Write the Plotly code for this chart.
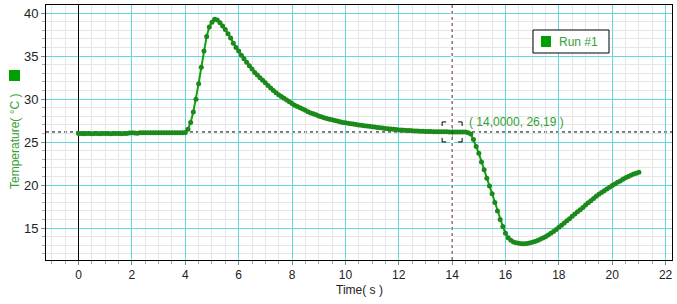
import numpy as np
import plotly.graph_objects as go

# sample times (s), 0.1 s grid from 0.0 to 21.0
time_s = np.round(np.arange(0, 211) * 0.1, 1)

temperature_c = [
    # 0.0 - 1.9
    26.00, 26.00, 25.99, 26.00, 26.00, 25.99, 26.00, 26.00, 25.99, 26.00,
    26.00, 26.00, 25.99, 26.00, 26.00, 26.00, 25.99, 26.00, 26.02, 26.06,
    # 2.0 - 3.9
    26.10, 26.08, 26.04, 26.10, 26.09, 26.10, 26.10, 26.09, 26.10, 26.10,
    26.10, 26.09, 26.10, 26.10, 26.10, 26.09, 26.10, 26.10, 26.10, 26.10,
    # 4.0 - 5.9
    26.12, 26.50, 27.30, 28.50, 30.00, 31.80, 33.70, 35.60, 37.30, 38.40,
    38.95, 39.30, 39.20, 38.90, 38.50, 38.10, 37.60, 37.10, 36.50, 36.00,
    # 6.0 - 7.9
    35.60, 35.10, 34.70, 34.30, 33.90, 33.50, 33.10, 32.80, 32.50, 32.20,
    31.90, 31.60, 31.30, 31.00, 30.75, 30.50, 30.30, 30.10, 29.90, 29.70,
    # 8.0 - 9.9
    29.50, 29.30, 29.15, 29.00, 28.85, 28.70, 28.55, 28.40, 28.30, 28.20,
    28.05, 27.95, 27.85, 27.75, 27.67, 27.60, 27.52, 27.45, 27.38, 27.30,
    # 10.0 - 11.9
    27.25, 27.20, 27.15, 27.10, 27.05, 27.00, 26.96, 26.92, 26.88, 26.84,
    26.80, 26.76, 26.72, 26.68, 26.64, 26.60, 26.56, 26.52, 26.49, 26.46,
    # 12.0 - 13.9
    26.43, 26.41, 26.39, 26.37, 26.35, 26.33, 26.31, 26.29, 26.27, 26.26,
    26.25, 26.24, 26.23, 26.22, 26.21, 26.21, 26.20, 26.20, 26.20, 26.19,
    # 14.0 - 15.9
    26.19, 26.19, 26.18, 26.18, 26.18, 26.17, 26.10, 25.95, 25.30, 24.50,
    23.70, 22.70, 21.80, 20.80, 19.90, 19.00, 18.00, 17.00, 16.00, 15.20,
    # 16.0 - 17.9
    14.40, 13.90, 13.60, 13.40, 13.30, 13.25, 13.20, 13.20, 13.22, 13.27,
    13.35, 13.45, 13.57, 13.70, 13.85, 14.00, 14.20, 14.40, 14.60, 14.85,
    # 18.0 - 19.9
    15.10, 15.35, 15.60, 15.85, 16.10, 16.40, 16.65, 16.90, 17.15, 17.40,
    17.70, 17.95, 18.20, 18.45, 18.70, 18.95, 19.15, 19.35, 19.55, 19.75,
    # 20.0 - 21.0
    19.95, 20.15, 20.35, 20.50, 20.70, 20.85, 21.00, 21.15, 21.30, 21.40,
    21.50,
]

cursor_x = 14.0
cursor_y = 26.19
cursor_label = "( 14,0000, 26,19 )"
series_name = "Run #1"
x_title = "Time( s )"
y_title = "Temperature( °C )"

GREEN_LINE = "#10a010"
GREEN_MARK = "#1b8a1b"
GREEN_TEXT = "#35a035"
CYAN = "#66d6d6"
FONT = "Liberation Sans, Arial, sans-serif"

W, H = 677, 304
L, R, T, B = 46, 5, 5, 44
PW, PH = W - L - R, H - T - B


def px(xp):
    return (xp - L) / PW


def py(yp):
    return (H - B - yp) / PH


fig = go.Figure()
fig.add_trace(go.Scatter(
    x=time_s, y=temperature_c, mode="lines+markers",
    line=dict(color=GREEN_LINE, width=2),
    marker=dict(color=GREEN_MARK, size=5),
    showlegend=False, hoverinfo="skip",
))

shapes = []
# hide the cyan gridline under the cursor (except where the data passes), then the cursor lines
shapes.append(dict(type="line", xref="x", yref="paper", x0=cursor_x, x1=cursor_x,
                   y0=0, y1=py(137), line=dict(color="#ffffff", width=3), layer="above"))
shapes.append(dict(type="line", xref="x", yref="paper", x0=cursor_x, x1=cursor_x,
                   y0=py(128), y1=1, line=dict(color="#ffffff", width=3), layer="above"))
shapes.append(dict(type="line", xref="x", yref="paper", x0=cursor_x, x1=cursor_x,
                   y0=0, y1=1, line=dict(color="#5a2828", width=1, dash="3px,3px"), layer="above"))
shapes.append(dict(type="line", xref="paper", yref="y", x0=0, x1=1,
                   y0=cursor_y, y1=cursor_y, line=dict(color="#000000", width=1, dash="3px,3px"),
                   layer="between"))
# cursor brackets (pixel offsets around anchor)
br = ("M -10,6 L -10,10 L -6,10 M 6,10 L 10,10 L 10,6 "
      "M 10,-6 L 10,-10 L 6,-10 M -6,-10 L -10,-10 L -10,-6")
shapes.append(dict(type="path", xref="x", yref="y", xsizemode="pixel", ysizemode="pixel",
                   xanchor=cursor_x, yanchor=cursor_y, path=br,
                   line=dict(color="#000000", width=1), layer="above"))
# legend box
shapes.append(dict(type="rect", xref="paper", yref="paper", x0=px(533), x1=px(609),
                   y0=py(53), y1=py(30), line=dict(color="#000000", width=1),
                   fillcolor="white", layer="above"))
shapes.append(dict(type="rect", xref="paper", yref="paper", x0=px(541), x1=px(551),
                   y0=py(47), y1=py(36), line=dict(width=0),
                   fillcolor="#00a000", layer="above"))
# y title square
shapes.append(dict(type="rect", xref="paper", yref="paper", x0=px(9), x1=px(20),
                   y0=py(81), y1=py(70), line=dict(width=0),
                   fillcolor="#00a000", layer="above"))

annotations = [
    dict(xref="paper", yref="paper", x=px(557), y=py(41.5), text=series_name,
         showarrow=False, xanchor="left", yanchor="middle",
         font=dict(family=FONT, size=12, color=GREEN_TEXT)),
    dict(xref="paper", yref="paper", x=px(467), y=py(121.5), text=cursor_label,
         showarrow=False, xanchor="left", yanchor="middle",
         font=dict(family=FONT, size=12, color=GREEN_TEXT)),
    dict(xref="paper", yref="paper", x=px(15), y=py(141), text=y_title,
         showarrow=False, textangle=-90, xanchor="center", yanchor="middle",
         font=dict(family=FONT, size=12, color=GREEN_TEXT)),
    dict(xref="paper", yref="paper", x=0.5, y=py(290), text=x_title,
         showarrow=False, xanchor="center", yanchor="middle",
         font=dict(family=FONT, size=12, color="#222222")),
]

fig.update_layout(
    width=W, height=H,
    margin=dict(l=L, r=R, t=T, b=B, pad=0),
    paper_bgcolor="white", plot_bgcolor="white",
    font=dict(family=FONT, size=12, color="#222222"),
    shapes=shapes, annotations=annotations,
    showlegend=False,
    xaxis=dict(
        range=[-1.22, 22.24], dtick=2, tick0=0,
        showgrid=True, gridcolor=CYAN, gridwidth=1,
        zeroline=True, zerolinecolor="#000000", zerolinewidth=1,
        showline=True, linecolor="#000000", linewidth=1, mirror=True,
        ticks="outside", ticklen=4, tickcolor="#888888",
        minor=dict(dtick=0.5, showgrid=True, gridcolor="#e6e6e6", gridwidth=1,
                   ticks="outside", ticklen=3, tickcolor="#aaaaaa"),
        tickfont=dict(family=FONT, size=12, color="#222222"),
        fixedrange=True,
    ),
    yaxis=dict(
        range=[11.3, 40.95], dtick=5, tick0=0,
        showgrid=True, gridcolor=CYAN, gridwidth=1,
        zeroline=False,
        showline=True, linecolor="#000000", linewidth=1, mirror=True,
        ticks="outside", ticklen=4, tickcolor="#888888",
        minor=dict(dtick=1, showgrid=True, gridcolor="#e6e6e6", gridwidth=1,
                   ticks="outside", ticklen=3, tickcolor="#aaaaaa"),
        tickfont=dict(family=FONT, size=13, color="#222222"),
        fixedrange=True,
    ),
)

fig.write_html("out.html")
